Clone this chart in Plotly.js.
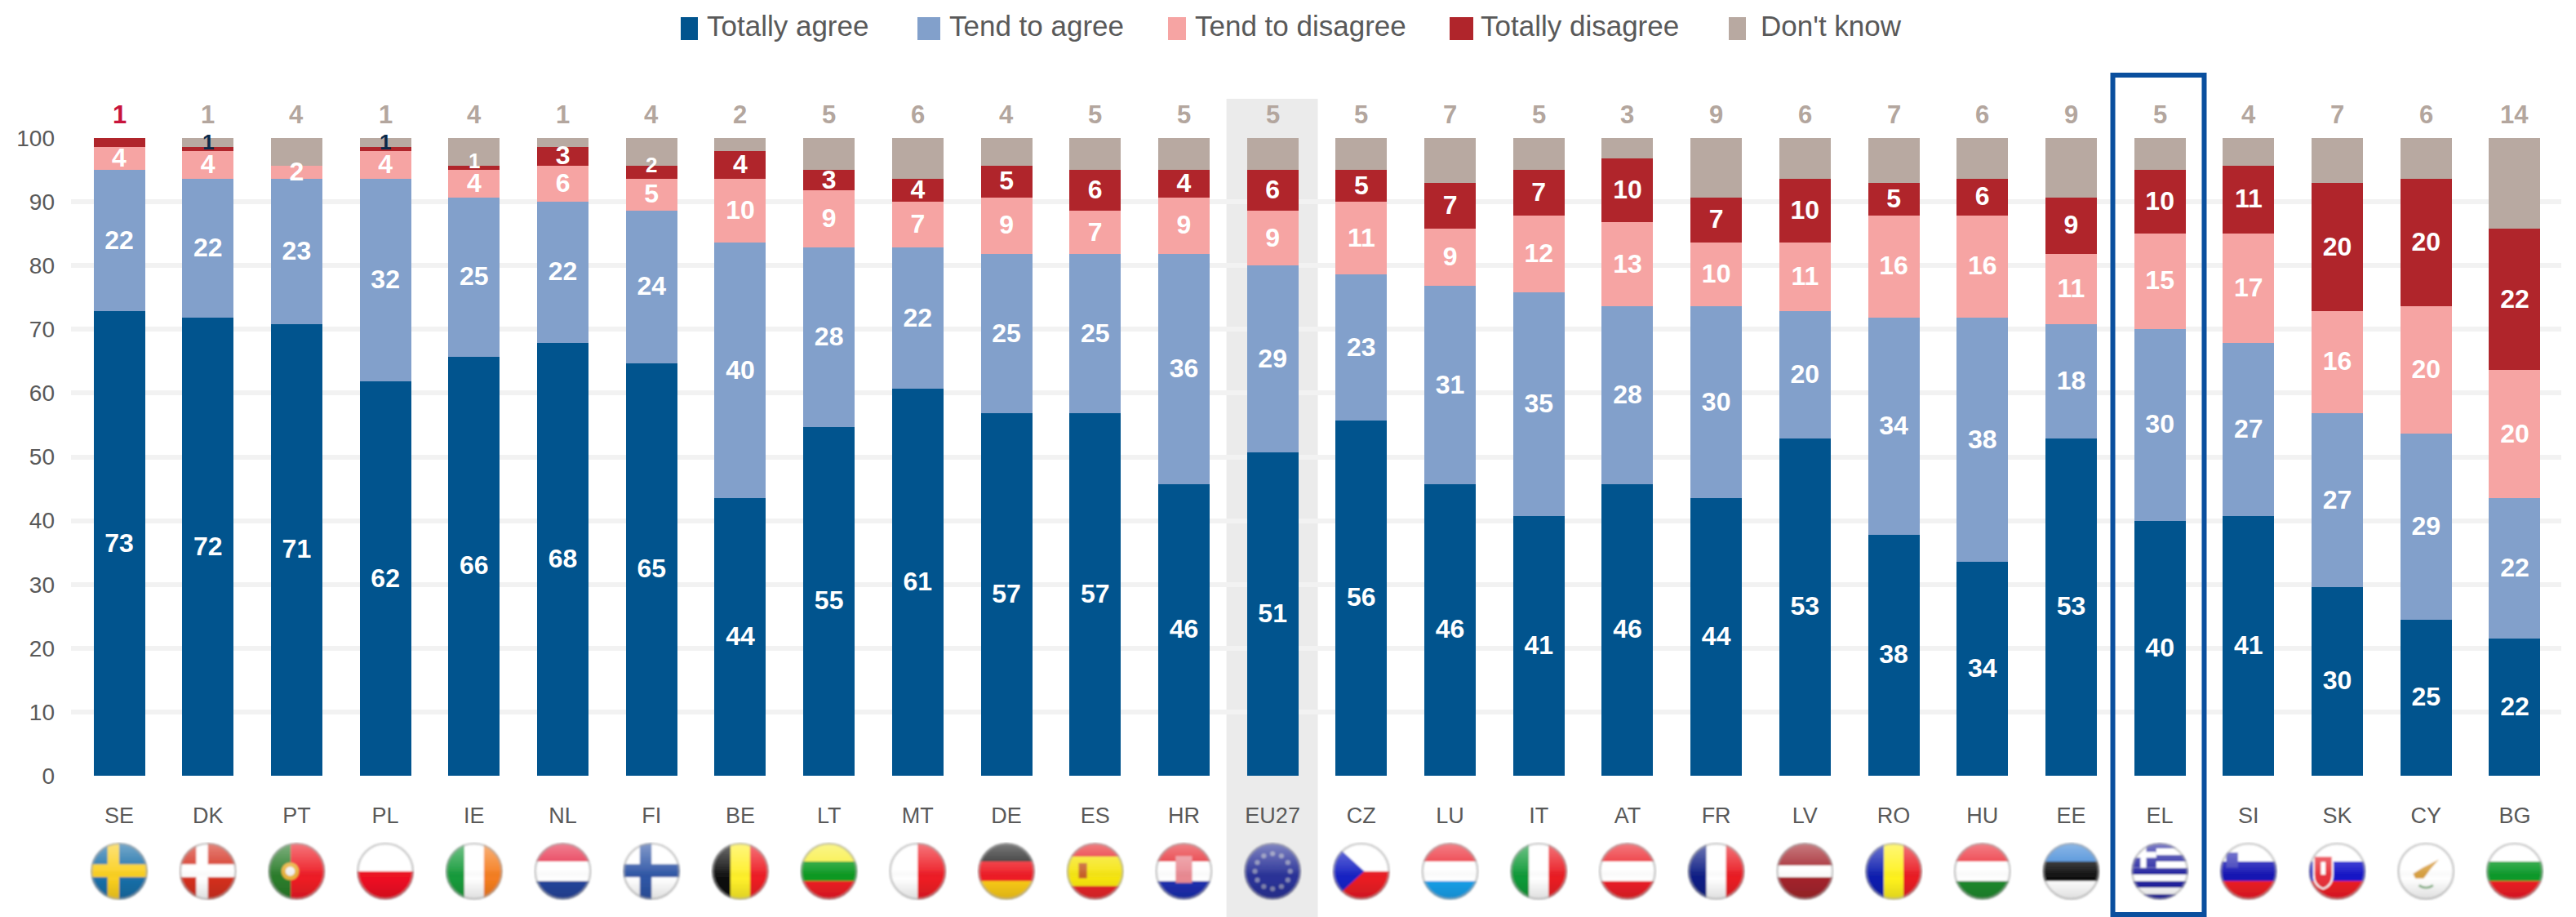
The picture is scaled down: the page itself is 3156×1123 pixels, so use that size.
<!DOCTYPE html>
<html>
<head>
<meta charset="utf-8">
<script src="https://cdn.plot.ly/plotly-3.0.1.min.js"></script>
<style>html,body{margin:0;padding:0;background:#fff}</style>
</head>
<body>
<div id="chart" style="width:3156px;height:1123px"></div>
<script>
const countries = ["SE","DK","PT","PL","IE","NL","FI","BE","LT","MT","DE","ES","HR","EU27","CZ","LU","IT","AT","FR","LV","RO","HU","EE","EL","SI","SK","CY","BG"];
const seriesNames = ["Totally agree","Tend to agree","Tend to disagree","Totally disagree","Don't know"];
const seriesColors = ["#01548e","#82a0cb","#f6a4a3","#b0252b","#b8a9a1"];

// Segment heights
const totallyAgree = [72.8,71.8,70.8,61.8,65.7,67.9,64.7,43.5,54.7,60.7,56.8,56.8,45.7,50.7,55.7,45.7,40.7,45.7,43.5,52.9,37.8,33.5,52.9,40.0,40.7,29.6,24.5,21.5];
const tendAgree = [22.2,21.8,22.8,31.8,25.0,22.1,23.9,40.1,28.1,22.1,25.0,25.0,36.1,29.3,22.9,31.1,35.1,27.9,30.1,19.9,34.0,38.3,17.9,30.1,27.2,27.2,29.1,22.0];
const tendDisagree = [3.6,4.3,2.1,4.3,4.3,5.7,5.0,10.0,9.0,7.2,8.9,6.8,8.9,8.6,11.4,9.0,12.1,13.2,10.0,10.8,16.1,16.1,11.0,14.9,17.1,16.1,20.0,20.1];
const totallyDisagree = [1.4,0.7,0,0.7,0.7,2.9,2.1,4.3,3.2,3.6,5.0,6.4,4.3,6.4,5.0,7.1,7.1,10.0,7.1,10.0,5.0,5.7,8.9,10.0,10.7,20.0,20.0,22.2];
const dontKnow = [0,1.4,4.3,1.4,4.3,1.4,4.3,2.1,5.0,6.4,4.3,5.0,5.0,5.0,5.0,7.1,5.0,3.2,9.3,6.4,7.1,6.4,9.3,5.0,4.3,7.1,6.4,14.2];

// Printed labels
const agreeLabels = [73,72,71,62,66,68,65,44,55,61,57,57,46,51,56,46,41,46,44,53,38,34,53,40,41,30,25,22];
const tendAgreeLabels = [22,22,23,32,25,22,24,40,28,22,25,25,36,29,23,31,35,28,30,20,34,38,18,30,27,27,29,22];
const tendDisagreeLabels = [4,4,2,4,4,6,5,10,9,7,9,7,9,9,11,9,12,13,10,11,16,16,11,15,17,16,20,20];
const disagreeLabels = [null,1,null,1,1,3,2,4,3,4,5,6,4,6,5,7,7,10,7,10,5,6,9,10,11,20,20,22];
const dontKnowLabels = [1,1,4,1,4,1,4,2,5,6,4,5,5,5,5,7,5,3,9,6,7,6,9,5,4,7,6,14];

const values = [totallyAgree,tendAgree,tendDisagree,totallyDisagree,dontKnow];
const labels = [agreeLabels,tendAgreeLabels,tendDisagreeLabels,disagreeLabels];

const W=3156,H=1123,L=87,R=3138,T=169,B=950;
const GREY="#595959", FONT="Liberation Sans";
const px=x=>(x-L)/(R-L), py=y=>(B-y)/(B-T);

// ---- flags
function hs(cols,w){w=w||cols.map(()=>1);const s=w.reduce((a,b)=>a+b,0);let y=0,o="";cols.forEach((c,i)=>{const h=100*w[i]/s;o+=`<rect x="0" y="${y}" width="100" height="${h+.3}" fill="${c}"/>`;y+=h});return o}
function vs(cols,w){w=w||cols.map(()=>1);const s=w.reduce((a,b)=>a+b,0);let x=0,o="";cols.forEach((c,i)=>{const h=100*w[i]/s;o+=`<rect x="${x}" y="0" width="${h+.3}" height="100" fill="${c}"/>`;x+=h});return o}
function nordic(bg,cr){return `<rect width="100" height="100" fill="${bg}"/><rect x="30" width="20" height="100" fill="${cr}"/><rect y="38" width="100" height="22" fill="${cr}"/>`}
function ring(){let o="";for(let i=0;i<12;i++){const a=i*Math.PI/6;o+=`<circle cx="${50+30*Math.cos(a)}" cy="${50+30*Math.sin(a)}" r="4.2" fill="#8388b4"/>`}return o}
const flagArt = {
 SE:nordic("#1a6fa8","#fbd020"), DK:nordic("#d4301f","#ffffff"),
 PT:vs(["#2b7d2b","#ee1c25"],[2,3])+`<circle cx="39" cy="50" r="15" fill="#e8b23c"/><circle cx="39" cy="50" r="8" fill="#f2f2f2"/>`,
 PL:hs(["#ffffff","#ee1122"]), IE:vs(["#169b3b","#ffffff","#f57e20"]),
 NL:hs(["#e62b48","#ffffff","#24459c"]), FI:nordic("#ffffff","#2f56a6"),
 BE:vs(["#111111","#fff02a","#ee1c25"]), LT:hs(["#f8ef3c","#0c9a22","#ee1c25"]),
 MT:vs(["#ffffff","#ee1c25"]), DE:hs(["#222222","#ee1c25","#fbcb1a"]),
 ES:hs(["#e8252a","#f6e511","#e8252a"],[1,2,1])+`<rect x="22" y="36" width="14" height="26" fill="#c8602a"/>`,
 HR:hs(["#e62b32","#ffffff","#1c2fb0"])+`<rect x="36" y="24" width="28" height="46" fill="#e98a92"/>`,
 EU27:`<rect width="100" height="100" fill="#2a3298"/>`+ring(),
 CZ:hs(["#ffffff","#ea1c24"])+`<path d="M0 0L55 50L0 100Z" fill="#1723c4"/>`,
 LU:hs(["#ec2a35","#ffffff","#1aa0ea"]), IT:vs(["#0f9a38","#ffffff","#ea1c24"]),
 AT:hs(["#ec2028","#ffffff","#ec2028"]), FR:vs(["#0f1f85","#ffffff","#ea1c24"]),
 LV:hs(["#a3242c","#ffffff","#a3242c"],[2,1,2]), RO:vs(["#0f1fb0","#fff21f","#ea1c24"]),
 HU:hs(["#ec2a35","#ffffff","#1f8a2e"]), EE:hs(["#3d86d6","#111111","#ffffff"]),
 EL:hs(["#2222a0","#ffffff","#2222a0","#ffffff","#2222a0","#ffffff","#2222a0","#ffffff","#2222a0"])+`<rect width="44" height="44" fill="#2222a0"/><rect x="17" width="10" height="44" fill="#fff"/><rect y="17" width="44" height="10" fill="#fff"/>`,
 SI:hs(["#ffffff","#1414b4","#ee1c25"])+`<rect x="12" y="18" width="20" height="26" fill="#3a3ab8"/>`,
 SK:hs(["#ffffff","#1414c8","#ee1c25"])+`<path d="M10 24H42V56Q42 74 26 80Q10 74 10 56Z" fill="#e8323c" stroke="#fff" stroke-width="3"/><rect x="22" y="34" width="8" height="22" fill="#fff"/>`,
 CY:`<rect width="100" height="100" fill="#ffffff"/><path d="M28 54L44 44L72 30L58 46L46 62L32 62Z" fill="#d8a040"/><path d="M38 74Q50 82 62 74" stroke="#8fb98f" stroke-width="4" fill="none"/>`,
 BG:hs(["#ffffff","#0c9a2a","#ee1c25"])
};
function flagUri(code,i){
 const svg=`<svg xmlns="http://www.w3.org/2000/svg" width="144" height="144" viewBox="0 0 100 100"><defs><filter id="b${i}" x="-10%" y="-10%" width="120%" height="120%"><feGaussianBlur stdDeviation="1.6"/></filter><clipPath id="c${i}"><circle cx="50" cy="50" r="48"/></clipPath><linearGradient id="g${i}" x1="0" y1="0" x2="0" y2="1"><stop offset="0" stop-color="#fff" stop-opacity=".42"/><stop offset=".48" stop-color="#fff" stop-opacity=".08"/><stop offset=".62" stop-color="#000" stop-opacity="0"/><stop offset="1" stop-color="#000" stop-opacity=".14"/></linearGradient></defs><g filter="url(#b${i})"><g clip-path="url(#c${i})">${flagArt[code]}<rect width="100" height="100" fill="url(#g${i})"/></g><circle cx="50" cy="50" r="47" fill="none" stroke="#a8a8a8" stroke-opacity=".55" stroke-width="4"/></g></svg>`;
 return "data:image/svg+xml;base64,"+btoa(svg);
}

// ---- traces
const traces=[];
values.forEach((v,k)=>traces.push({type:"bar",name:seriesNames[k],x:countries,y:v,marker:{color:seriesColors[k],line:{width:0}},showlegend:false,hoverinfo:"x+y+name"}));
const cum=countries.map(()=>0);
const annotations=[];
labels.forEach((lab,k)=>{
 const xs=[],ys=[],ts=[];
 countries.forEach((c,i)=>{
  const base=cum[i],h=values[k][i];
  cum[i]+=h;
  if(lab[i]===null) return;
  if(k===3 && lab[i]<=2){
   annotations.push({x:c,y:base+h,xref:"x",yref:"y",yshift:lab[i]===1?6:1,text:String(lab[i]),showarrow:false,xanchor:"center",yanchor:"middle",
    font:{family:FONT,size:26,color:(c==="DK"||c==="PL")?"#0b2a4a":"#ffffff",weight:700}});
   return;
  }
  xs.push(c);ys.push(base+h/2-0.25);ts.push(String(lab[i]));
 });
 traces.push({type:"scatter",mode:"text",x:xs,y:ys,text:ts,textposition:"middle center",cliponaxis:false,showlegend:false,hoverinfo:"skip",
  textfont:{family:FONT,size:32,color:"#ffffff",weight:700}});
});
countries.forEach((c,i)=>annotations.push({x:c,y:100,xref:"x",yref:"y",yshift:29,text:String(dontKnowLabels[i]),showarrow:false,xanchor:"center",yanchor:"middle",
 font:{family:FONT,size:31,weight:700,color:c==="SE"?"#c8143c":"#b3a69e"}}));

// ---- legend drawn to the reference's proportions
const legendSwatch=[[834,855],[1124,1152],[1431,1453],[1776,1805],[2118,2139]];
const legendText=[864,1161,1462,1812,2155];
const shapes=[
 {type:"rect",layer:"below",xref:"x",yref:"paper",x0:12.48,x1:13.51,y0:py(1123),y1:py(121),fillcolor:"#ebebeb",line:{width:0}},
 {type:"rect",layer:"above",xref:"x",yref:"paper",x0:22.47,x1:23.5,y0:py(1120),y1:py(92),fillcolor:"rgba(0,0,0,0)",line:{color:"#0a4f9e",width:6}}
];
seriesNames.forEach((n,k)=>{
 shapes.push({type:"rect",xref:"paper",yref:"paper",x0:px(legendSwatch[k][0]),x1:px(legendSwatch[k][1]),y0:py(49),y1:py(21),fillcolor:seriesColors[k],line:{width:0}});
 annotations.push({xref:"paper",yref:"paper",x:px(legendText[k]),y:py(32),text:n,showarrow:false,xanchor:"left",yanchor:"middle",font:{family:FONT,size:35,color:GREY}});
});

const images=countries.map((c,i)=>({source:flagUri(c,i),xref:"x",yref:"paper",x:i,y:py(1067),sizex:72/108.67,sizey:72/(B-T),xanchor:"center",yanchor:"middle",sizing:"contain",layer:"above"}));

Plotly.newPlot("chart",traces,{
 width:W,height:H,margin:{l:L,r:W-R,t:T,b:H-B,pad:0},
 paper_bgcolor:"#ffffff",plot_bgcolor:"#ffffff",
 barmode:"stack",bargap:0.42,showlegend:false,
 font:{family:FONT,color:GREY},
 xaxis:{type:"category",categoryorder:"array",categoryarray:countries,range:[-0.543,27.525],tickfont:{family:FONT,size:27,color:GREY},showgrid:false,zeroline:false,showline:false,ticks:"",ticklabelstandoff:30,tickangle:0,fixedrange:true},
 yaxis:{range:[0,100],tickmode:"linear",tick0:0,dtick:10,tickfont:{family:FONT,size:28,color:GREY},gridcolor:"#f2f2f2",gridwidth:6,zeroline:false,showline:false,ticks:"",ticklabelstandoff:19,fixedrange:true},
 shapes:shapes,annotations:annotations,images:images
},{displayModeBar:false,staticPlot:true});
</script>
</body>
</html>
